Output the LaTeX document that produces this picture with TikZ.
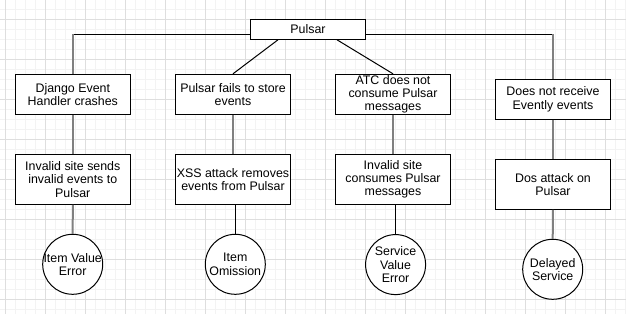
\documentclass[tikz,border=0pt]{standalone}
\usepackage{fontspec}
\setmainfont{Liberation Sans}
\usetikzlibrary{calc}
\definecolor{gridminor}{HTML}{F3F3F3}
\definecolor{gridmajor}{HTML}{DEDEDE}
\definecolor{stubgray}{HTML}{808080}
\tikzset{fault/.style={draw=black,line width=.75pt,fill=white,inner sep=0pt,minimum width=86.25pt,align=center,font=\fontsize{9.3}{10}\selectfont},
 root/.style={fault,minimum height=15pt},
 event/.style={fault,minimum height=30pt},
 cause/.style={fault,minimum height=37.5pt},
 outcome/.style={fault,circle,minimum size=45pt,inner sep=-2pt},
 link/.style={line width=.75pt,black},
 stub/.style={line width=1.5pt,stubgray},
 minorline/.style={gridminor,line width=.75pt},
 majorline/.style={gridmajor,line width=.75pt}}
\begin{document}
\begin{tikzpicture}[x=.75pt,y=-.75pt]
\useasboundingbox (0,0) rectangle (626,314);
\fill[white] (0,0) rectangle (626,314);
\foreach \k in {15,25,...,625} \draw[minorline] (\k,0) -- (\k,314);
\foreach \k in {9,19,...,309} \draw[minorline] (0,\k) -- (626,\k);
\foreach \k in {5,45,...,605} \draw[majorline] (\k,0) -- (\k,314);
\foreach \k in {19,59,...,299} \draw[majorline] (0,\k) -- (626,\k);

\node[root] (pulsar) at (308,29.3) {Pulsar};
\node[event] (django) at (72.8,94.3) {Django Event\\Handler crashes};
\node[event] (store) at (233,94.3) {Pulsar fails to store\\events};
\node[event] (atc) at (393,94.3) {ATC does not\\consume Pulsar\\messages};
\node[event] (evently) at (553,99.3) {Does not receive\\Evently events};
\node[cause] (sends) at (72.8,179.3) {Invalid site sends\\invalid events to\\Pulsar};
\node[cause] (xss) at (233,179.3) {XSS attack removes\\events from Pulsar};
\node[cause] (consumes) at (393,179.3) {Invalid site\\consumes Pulsar\\messages};
\node[cause] (dos) at (553,184.3) {Dos attack on\\Pulsar};
\node[outcome] (valerr) at (72.7,264.3) {Item Value\\Error};
\node[outcome] (omission) at (235.3,264.3) {Item\\Omission};
\node[outcome] (svcerr) at (395.6,264.6) {Service\\Value\\Error};
\node[outcome] (delayed) at (552.7,269.3) {Delayed\\Service};

\coordinate (pwest) at ($(pulsar.west)+(0,4.7)$);
\coordinate (peast) at ($(pulsar.east)+(0,4.7)$);
\draw[link] (pwest) -- (pwest -| django.north);
\draw[stub] (pwest -| django.north) -- (django.north);
\draw[link] (peast) -- (peast -| evently.north);
\draw[stub] (peast -| evently.north) -- (evently.north);
\draw[link] ($(pulsar.south west)+(28,0)$) -- (store.north);
\draw[link] ($(pulsar.south east)+(-29,0)$) -- (atc.north);

\draw[stub] (django.south) -- (sends.north);
\draw[stub] (store.south) -- (xss.north);
\draw[stub] (atc.south) -- (consumes.north);
\draw[stub] (evently.south) -- (dos.north);
\draw[stub] (sends.south) -- (valerr.north);
\draw[link] (xss.south -| omission.north) -- (omission.north);
\draw[link] (consumes.south -| svcerr.north) -- (svcerr.north);
\draw[stub] (dos.south) -- (delayed.north);
\end{tikzpicture}
\end{document}
